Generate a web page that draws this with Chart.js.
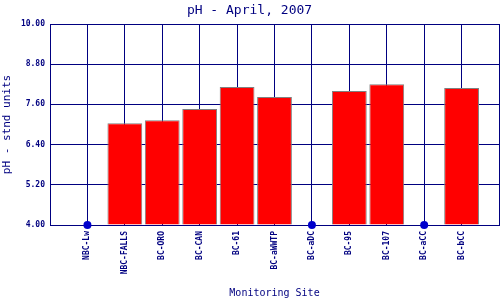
<!DOCTYPE html>
<html lang="en">

<head>
    <meta charset="UTF-8">
    <script src="https://cdn.jsdelivr.net/npm/chart.js"></script>
    <style>
        body {
            margin: 0;
            background: #ffffff;
        }
    </style>
</head>

<body>
    <canvas id="phChart" width="500" height="300"></canvas>

    <script>
        // pH readings by site, null where no sample (drawn as a dot on the axis)
        const sites = ['NBC-Lw', 'NBC-FALLS', 'BC-ORO', 'BC-CAN', 'BC-61', 'BC-aWWTP',
            'BC-aDC', 'BC-95', 'BC-107', 'BC-aCC', 'BC-bCC'];
        const phValues = [null, 7.04, 7.13, 7.46, 8.12, 7.82, null, 8.00, 8.20, null, 8.09];
        const noSample = [4, null, null, null, null, null, 4, null, null, 4, null];
        const yTicks = [4.00, 5.20, 6.40, 7.60, 8.80, 10.00];

        const navy = '#000080';
        const mono = "'DejaVu Sans Mono', 'Liberation Mono', monospace";

        // blank slot at each end so the sites sit on the grid lines
        const labels = [''].concat(sites, ['']);
        const barData = [null].concat(phValues, [null]);
        const dotData = [null].concat(noSample, [null]);

        new Chart(document.getElementById('phChart'), {
            data: {
                labels: labels,
                datasets: [{
                    type: 'line',
                    data: dotData,
                    showLine: false,
                    pointRadius: 4,
                    pointHoverRadius: 4,
                    pointBackgroundColor: '#0000cc',
                    pointBorderColor: '#0000cc',
                    pointBorderWidth: 0,
                    clip: false,
                    order: 0
                }, {
                    type: 'bar',
                    data: barData,
                    base: 4,
                    backgroundColor: '#ff0000',
                    borderColor: '#808080',
                    borderWidth: 1,
                    barPercentage: 0.93,
                    categoryPercentage: 1,
                    order: 1
                }]
            },
            options: {
                responsive: false,
                animation: false,
                devicePixelRatio: 1,
                layout: {
                    autoPadding: false,
                    padding: { right: 1 }
                },
                plugins: {
                    legend: { display: false },
                    tooltip: { enabled: false },
                    title: {
                        display: true,
                        text: 'pH - April, 2007',
                        color: navy,
                        font: { family: mono, size: 13, weight: 'normal' },
                        padding: { top: 3, bottom: 5.4 }
                    }
                },
                scales: {
                    x: {
                        offset: false,
                        grid: {
                            offset: false,
                            color: navy,
                            lineWidth: 1,
                            drawTicks: false
                        },
                        border: { color: navy, width: 1 },
                        ticks: {
                            autoSkip: false,
                            maxRotation: 90,
                            minRotation: 90,
                            padding: 6,
                            color: navy,
                            font: { family: mono, size: 8, weight: 'bold' }
                        },
                        title: {
                            display: true,
                            text: 'Monitoring Site',
                            color: navy,
                            font: { family: mono, size: 10 },
                            padding: { top: 0, bottom: 1 }
                        },
                        afterFit: function (scale) {
                            scale.height = 75;
                            scale.paddingLeft = 0;
                            scale.paddingRight = 0;
                        }
                    },
                    y: {
                        min: 4,
                        max: 10,
                        grid: {
                            color: navy,
                            lineWidth: 1,
                            drawTicks: false
                        },
                        border: { color: navy, width: 1 },
                        ticks: {
                            padding: 5,
                            color: navy,
                            font: { family: mono, size: 8, weight: 'bold' },
                            callback: function (value) {
                                return Number(value).toFixed(2);
                            }
                        },
                        afterBuildTicks: function (scale) {
                            scale.ticks = yTicks.map(v => ({ value: v }));
                        },
                        title: {
                            display: true,
                            text: 'pH - stnd units',
                            color: navy,
                            font: { family: mono, size: 11 },
                            padding: { top: 1, bottom: 0 }
                        },
                        afterFit: function (scale) {
                            scale.width = 50;
                        }
                    }
                }
            }
        });
    </script>

</body>

</html>
